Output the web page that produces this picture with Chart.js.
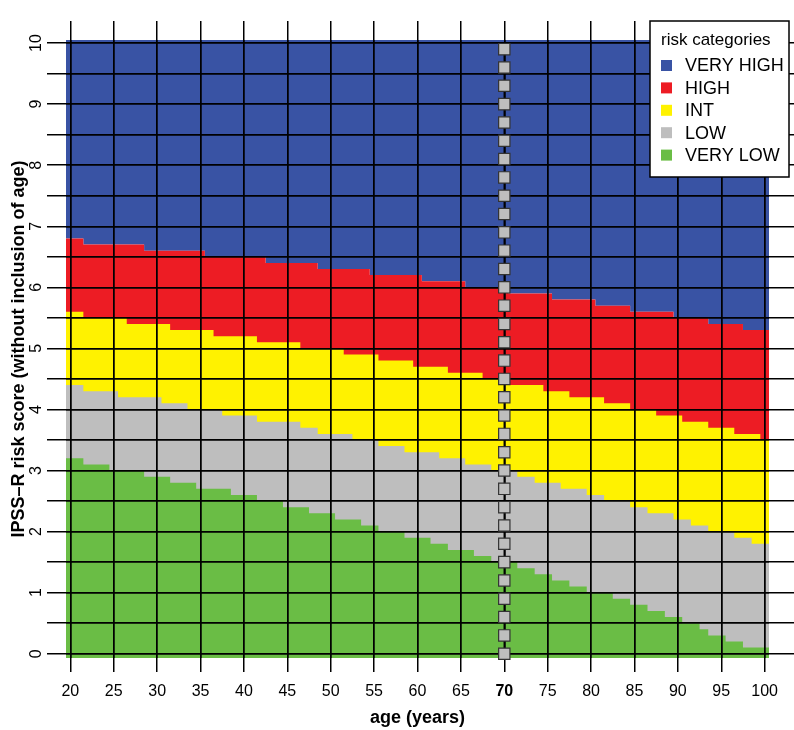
<!DOCTYPE html>
<html>
<head>
<meta charset="utf-8">
<script src="https://cdn.jsdelivr.net/npm/chart.js@4/dist/chart.umd.min.js"></script>
<style>
  html, body { margin: 0; padding: 0; background: #fff; }
  canvas { display: block; }
</style>
</head>
<body>
<canvas id="riskChart" width="794" height="730"></canvas>
<script>
const ages = [
  20, 21, 22, 23, 24, 25, 26, 27, 28, 29,
  30, 31, 32, 33, 34, 35, 36, 37, 38, 39,
  40, 41, 42, 43, 44, 45, 46, 47, 48, 49,
  50, 51, 52, 53, 54, 55, 56, 57, 58, 59,
  60, 61, 62, 63, 64, 65, 66, 67, 68, 69,
  70, 71, 72, 73, 74, 75, 76, 77, 78, 79,
  80, 81, 82, 83, 84, 85, 86, 87, 88, 89,
  90, 91, 92, 93, 94, 95, 96, 97, 98, 99,
  100
];

// upper edge of each category, per age
const highTop = [
  6.8, 6.8, 6.7, 6.7, 6.7, 6.7, 6.7, 6.7, 6.7, 6.6,
  6.6, 6.6, 6.6, 6.6, 6.6, 6.6, 6.5, 6.5, 6.5, 6.5,
  6.5, 6.5, 6.5, 6.4, 6.4, 6.4, 6.4, 6.4, 6.4, 6.3,
  6.3, 6.3, 6.3, 6.3, 6.3, 6.2, 6.2, 6.2, 6.2, 6.2,
  6.2, 6.1, 6.1, 6.1, 6.1, 6.1, 6.0, 6.0, 6.0, 6.0,
  6.0, 5.9, 5.9, 5.9, 5.9, 5.9, 5.8, 5.8, 5.8, 5.8,
  5.8, 5.7, 5.7, 5.7, 5.7, 5.6, 5.6, 5.6, 5.6, 5.6,
  5.5, 5.5, 5.5, 5.5, 5.4, 5.4, 5.4, 5.4, 5.3, 5.3,
  5.3
];
const intTop = [
  5.6, 5.6, 5.5, 5.5, 5.5, 5.5, 5.5, 5.4, 5.4, 5.4,
  5.4, 5.4, 5.3, 5.3, 5.3, 5.3, 5.3, 5.2, 5.2, 5.2,
  5.2, 5.2, 5.1, 5.1, 5.1, 5.1, 5.1, 5.0, 5.0, 5.0,
  5.0, 5.0, 4.9, 4.9, 4.9, 4.9, 4.8, 4.8, 4.8, 4.8,
  4.7, 4.7, 4.7, 4.7, 4.6, 4.6, 4.6, 4.6, 4.5, 4.5,
  4.5, 4.4, 4.4, 4.4, 4.4, 4.3, 4.3, 4.3, 4.2, 4.2,
  4.2, 4.2, 4.1, 4.1, 4.1, 4.0, 4.0, 4.0, 3.9, 3.9,
  3.9, 3.8, 3.8, 3.8, 3.7, 3.7, 3.7, 3.6, 3.6, 3.6,
  3.5
];
const lowTop = [
  4.4, 4.4, 4.3, 4.3, 4.3, 4.3, 4.2, 4.2, 4.2, 4.2,
  4.2, 4.1, 4.1, 4.1, 4.0, 4.0, 4.0, 4.0, 3.9, 3.9,
  3.9, 3.9, 3.8, 3.8, 3.8, 3.8, 3.8, 3.7, 3.7, 3.6,
  3.6, 3.6, 3.6, 3.5, 3.5, 3.5, 3.4, 3.4, 3.4, 3.3,
  3.3, 3.3, 3.3, 3.2, 3.2, 3.2, 3.1, 3.1, 3.1, 3.0,
  3.0, 3.0, 2.9, 2.9, 2.8, 2.8, 2.8, 2.7, 2.7, 2.7,
  2.6, 2.6, 2.5, 2.5, 2.5, 2.4, 2.4, 2.3, 2.3, 2.3,
  2.2, 2.2, 2.1, 2.1, 2.0, 2.0, 2.0, 1.9, 1.9, 1.8,
  1.8
];
const veryLowTop = [
  3.2, 3.2, 3.1, 3.1, 3.1, 3.0, 3.0, 3.0, 3.0, 2.9,
  2.9, 2.9, 2.8, 2.8, 2.8, 2.7, 2.7, 2.7, 2.7, 2.6,
  2.6, 2.6, 2.5, 2.5, 2.5, 2.4, 2.4, 2.4, 2.3, 2.3,
  2.3, 2.2, 2.2, 2.2, 2.1, 2.1, 2.0, 2.0, 2.0, 1.9,
  1.9, 1.9, 1.8, 1.8, 1.7, 1.7, 1.7, 1.6, 1.6, 1.5,
  1.5, 1.5, 1.4, 1.4, 1.3, 1.3, 1.2, 1.2, 1.1, 1.1,
  1.0, 1.0, 1.0, 0.9, 0.9, 0.8, 0.8, 0.7, 0.7, 0.6,
  0.6, 0.5, 0.5, 0.4, 0.3, 0.3, 0.2, 0.2, 0.1, 0.1,
  0.1
];

// marked age line
const markerAge = 70;
const markerScores = [
  0, 0.3, 0.6, 0.9, 1.2, 1.5, 1.8, 2.1, 2.4, 2.7, 3.0, 3.3,
  3.6, 3.9, 4.2, 4.5, 4.8, 5.1, 5.4, 5.7, 6.0, 6.3, 6.6, 6.9,
  7.2, 7.5, 7.8, 8.1, 8.4, 8.7, 9.0, 9.3, 9.6, 9.9
];

const xTicks = [20, 25, 30, 35, 40, 45, 50, 55, 60, 65, 70, 75, 80, 85, 90, 95, 100];
const yTicks = [0, 0.5, 1, 1.5, 2, 2.5, 3, 3.5, 4, 4.5, 5, 5.5, 6, 6.5, 7, 7.5, 8, 8.5, 9, 9.5, 10];
const yLabels = [0, 1, 2, 3, 4, 5, 6, 7, 8, 9, 10];

const categories = ['VERY HIGH', 'HIGH', 'INT', 'LOW', 'VERY LOW'];
const colors = ['#3953a4', '#ed1c24', '#fff200', '#bebebe', '#6abd45'];

const FONT = "'Liberation Sans', Arial, Helvetica, sans-serif";
Chart.defaults.font.family = FONT;
Chart.defaults.color = '#000';

// each age is one cell wide, so pad half a year on both ends
function stepPoints(values) {
  const pts = ages.map((a, i) => ({ x: a, y: values[i] }));
  pts.unshift({ x: ages[0] - 0.5, y: values[0] });
  pts.push({ x: ages[ages.length - 1] + 0.5, y: values[values.length - 1] });
  return pts;
}

function band(i, values, fill) {
  return {
    label: categories[i],
    data: stepPoints(values),
    backgroundColor: colors[i],
    borderWidth: 0,
    pointRadius: 0,
    stepped: 'middle',
    fill: fill,
    order: 5 - i
  };
}

const gridOpts = (len) => ({ color: '#000', lineWidth: 1.5, tickLength: len, tickColor: '#000', z: 1 });
const setTicks = (list) => (scale) => { scale.ticks = list.map(v => ({ value: v })); };

const overlay = {
  id: 'overlay',
  beforeDatasetDraw(chart, args) {
    if (args.index === 5) return false;
  },
  afterDraw(chart) {
    const ctx = chart.ctx;
    const ys = chart.scales.y;

    // vertical tick labels like R's default
    ctx.save();
    ctx.fillStyle = '#000';
    ctx.font = '16px ' + FONT;
    ctx.textAlign = 'center';
    ctx.textBaseline = 'middle';
    yLabels.forEach(v => {
      ctx.save();
      ctx.translate(37, ys.getPixelForValue(v));
      ctx.rotate(-Math.PI / 2);
      ctx.fillText(String(v), 0, 0);
      ctx.restore();
    });
    ctx.restore();

    // age line on top of the grid
    chart.getDatasetMeta(5).controller.draw();

    // legend box
    ctx.save();
    ctx.fillStyle = '#fff';
    ctx.fillRect(650, 21, 139, 156);
    ctx.strokeStyle = '#000';
    ctx.lineWidth = 1.5;
    ctx.strokeRect(650, 21, 139, 156);
    ctx.fillStyle = '#000';
    ctx.font = '17px ' + FONT;
    ctx.textBaseline = 'alphabetic';
    ctx.fillText('risk categories', 661, 45);
    ctx.font = '18px ' + FONT;
    ctx.textBaseline = 'middle';
    categories.forEach((c, i) => {
      const cy = 65.5 + i * 22.4;
      ctx.fillStyle = colors[i];
      ctx.fillRect(661, cy - 5.5, 11, 11);
      ctx.fillStyle = '#000';
      ctx.fillText(c, 685, cy + 1);
    });
    ctx.restore();
  }
};

new Chart(document.getElementById('riskChart'), {
  type: 'line',
  data: {
    datasets: [
      band(0, highTop, 'end'),
      band(1, highTop, 'start'),
      band(2, intTop, 'start'),
      band(3, lowTop, 'start'),
      band(4, veryLowTop, 'start'),
      {
        label: 'age ' + markerAge,
        data: markerScores.map(s => ({ x: markerAge, y: s })),
        borderColor: '#000',
        borderWidth: 1.5,
        pointStyle: 'rect',
        pointRadius: 8,
        pointBackgroundColor: '#bebebe',
        pointBorderColor: '#333',
        pointBorderWidth: 1.2,
        fill: false,
        order: 0
      }
    ]
  },
  options: {
    responsive: false,
    animation: false,
    events: [],
    layout: { padding: 0 },
    plugins: { legend: { display: false }, tooltip: { enabled: false } },
    scales: {
      x: {
        type: 'linear', position: 'bottom', min: 19.5, max: 100.5,
        afterBuildTicks: setTicks(xTicks),
        afterFit: s => { s.height = 72; },
        grid: gridOpts(14),
        border: { display: false },
        ticks: {
          autoSkip: false, maxRotation: 0, padding: 10,
          font: c => ({ size: 16, weight: c.tick && c.tick.value === markerAge ? 'bold' : 'normal' })
        },
        title: { display: true, text: 'age (years)', font: { size: 18, weight: 'bold' }, padding: { top: 0, bottom: 1 } }
      },
      x2: {
        type: 'linear', position: 'top', min: 19.5, max: 100.5,
        afterBuildTicks: setTicks(xTicks),
        afterFit: s => { s.height = 40; },
        grid: gridOpts(19),
        border: { display: false },
        ticks: { callback: () => '' }
      },
      y: {
        type: 'linear', position: 'left', min: -0.07, max: 10.05,
        afterBuildTicks: setTicks(yTicks),
        afterFit: s => { s.width = 66; },
        grid: gridOpts(19),
        border: { display: false },
        ticks: { callback: () => '' },
        title: {
          display: true, text: 'IPSS\u2013R risk score (without inclusion of age)',
          font: { size: 18, weight: 'bold' }, padding: { top: 8, bottom: 0 }
        }
      },
      y2: {
        type: 'linear', position: 'right', min: -0.07, max: 10.05,
        afterBuildTicks: setTicks(yTicks),
        afterFit: s => { s.width = 25; },
        grid: gridOpts(25),
        border: { display: false },
        ticks: { callback: () => '' }
      }
    }
  },
  plugins: [overlay]
});
</script>
</body>
</html>
